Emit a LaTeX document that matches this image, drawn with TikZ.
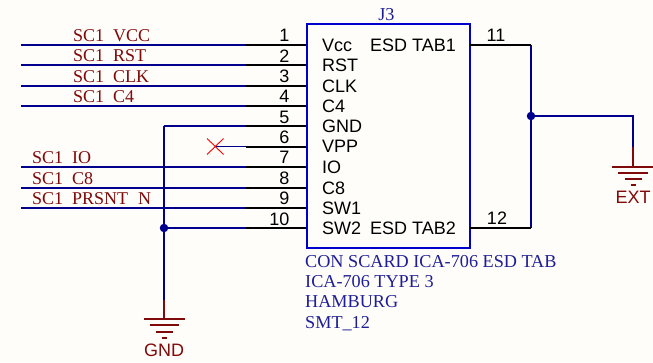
\documentclass[tikz,border=0pt]{standalone}
\usepackage{fontspec}
\setmainfont{Liberation Serif}
\setsansfont{Liberation Sans}
\definecolor{paper}{RGB}{255,253,249}
\definecolor{netblue}{RGB}{0,0,140}
\definecolor{boxblue}{RGB}{0,0,205}
\definecolor{partblue}{RGB}{30,30,150}
\definecolor{netred}{RGB}{128,10,10}
\tikzset{
  wire/.style={draw=netblue, line width=2pt},
  pinline/.style={draw=black, line width=2pt},
  gndline/.style={draw=netred, line width=2pt},
  dotnode/.style={circle, fill=netblue, inner sep=0pt, minimum size=8.5pt},
  pinnum/.style={anchor=base east, inner sep=0pt, font=\sffamily\fontsize{18}{19}\selectfont},
  pinname/.style={anchor=base west, inner sep=0pt, font=\sffamily\fontsize{18}{19}\selectfont},
  netname/.style={anchor=base west, inner sep=0pt, text=netred, font=\rmfamily\fontsize{18}{20}\selectfont},
  partname/.style={anchor=base west, inner sep=0pt, text=partblue, font=\rmfamily\fontsize{18.2}{20}\selectfont},
  gndname/.style={anchor=base, inner sep=0pt, text=netred, font=\sffamily\fontsize{18}{19}\selectfont},
}
\begin{document}
\begin{tikzpicture}[x=1pt, y=-1pt]
      \useasboundingbox[fill=paper] (0, 0) rectangle (653, 362);

      %%connector body
      \node[draw=boxblue, line width=2pt, minimum width=163.5pt, minimum height=224pt, inner sep=0pt] (J3box) at (388.25, 136){};
      \node[partname, anchor=base] (J3) at (386.5, 20){J3};

      %%left pins
      \coordinate (n1) at (21, 44.5);    \coordinate (m1) at (246, 44.5);   \coordinate (p1) at (306, 44.5);
      \coordinate (n2) at (21, 65);      \coordinate (m2) at (246, 65);     \coordinate (p2) at (306, 65);
      \coordinate (n3) at (21, 85.5);    \coordinate (m3) at (246, 85.5);   \coordinate (p3) at (306, 85.5);
      \coordinate (n4) at (21, 106);     \coordinate (m4) at (246, 106);    \coordinate (p4) at (306, 106);
      \coordinate (n5) at (164, 126);    \coordinate (m5) at (246, 126);    \coordinate (p5) at (306, 126);
      \coordinate (n6) at (215, 146.5);  \coordinate (m6) at (246, 146.5);  \coordinate (p6) at (306, 146.5);
      \coordinate (n7) at (21, 167);     \coordinate (m7) at (246, 167);    \coordinate (p7) at (306, 167);
      \coordinate (n8) at (21, 187.5);   \coordinate (m8) at (246, 187.5);  \coordinate (p8) at (306, 187.5);
      \coordinate (n9) at (21, 208);     \coordinate (m9) at (246, 208);    \coordinate (p9) at (306, 208);
      \coordinate (m10) at (246, 228);   \coordinate (p10) at (306, 228);

      %%net names
      \node[netname] (sc1vcc) at (73, 41){SC1\hspace{.5em}VCC};
      \node[netname] (sc1rst) at (73, 61){SC1\hspace{.5em}RST};
      \node[netname] (sc1clk) at (73, 82){SC1\hspace{.5em}CLK};
      \node[netname] (sc1c4) at (73, 102){SC1\hspace{.5em}C4};
      \node[netname] (sc1io) at (32, 163){SC1\hspace{.5em}IO};
      \node[netname] (sc1c8) at (32, 184){SC1\hspace{.5em}C8};
      \node[netname] (sc1prsnt) at (32, 204){SC1\hspace{.5em}PRSNT\hspace{.55em}N};

      %%wires
      \draw[wire] (n1) to (m1);
      \draw[wire] (n2) to (m2);
      \draw[wire] (n3) to (m3);
      \draw[wire] (n4) to (m4);
      \draw[wire] (n5) to (m5);
      \draw[wire, line width=1.5pt] (n6) to (m6);
      \draw[wire] (n7) to (m7);
      \draw[wire] (n8) to (m8);
      \draw[wire] (n9) to (m9);

      %%pins
      \draw[pinline] (m1) to (p1);
      \draw[pinline] (m2) to (p2);
      \draw[pinline] (m3) to (p3);
      \draw[pinline] (m4) to (p4);
      \draw[pinline] (m5) to (p5);
      \draw[pinline] (m6) to (p6);
      \draw[pinline] (m7) to (p7);
      \draw[pinline] (m8) to (p8);
      \draw[pinline] (m9) to (p9);
      \draw[pinline] (m10) to (p10);

      %%pin numbers
      \node[pinnum] (num1) at (289.5, 41){1};
      \node[pinnum] (num2) at (289.5, 62){2};
      \node[pinnum] (num3) at (289.5, 82){3};
      \node[pinnum] (num4) at (289.5, 102){4};
      \node[pinnum] (num5) at (289.5, 123){5};
      \node[pinnum] (num6) at (289.5, 143){6};
      \node[pinnum] (num7) at (289.5, 163){7};
      \node[pinnum] (num8) at (289.5, 184){8};
      \node[pinnum] (num9) at (289.5, 204){9};
      \node[pinnum] (num10) at (289.5, 225){10};

      %%pin names
      \node[pinname] (vcc) at (322, 51){Vcc};
      \node[pinname] (rst) at (322, 71){RST};
      \node[pinname] (clk) at (322, 92){CLK};
      \node[pinname] (c4) at (322, 112){C4};
      \node[pinname] (gnd) at (322, 132.5){GND};
      \node[pinname] (vpp) at (322, 152){VPP};
      \node[pinname] (io) at (322, 173){IO};
      \node[pinname] (c8) at (322, 194){C8};
      \node[pinname] (swone) at (322, 214){SW1};
      \node[pinname] (swtwo) at (322, 234){SW2};
      \node[pinname] (tabone) at (370, 51){ESD TAB1};
      \node[pinname] (tabtwo) at (370, 234){ESD TAB2};

      %%no connect
      \coordinate (xa) at (207, 138.5);
      \coordinate (xb) at (223.5, 154.5);
      \coordinate (xc) at (207, 154.5);
      \coordinate (xd) at (223.5, 138.5);
      \draw[red, line width=.9pt] (xa) to (xb);
      \draw[red, line width=.9pt] (xc) to (xd);

      %%GND
      \node[dotnode] (dotgnd) at (164, 228){};
      \coordinate (gw) at (164, 300);
      \coordinate (gb) at (164, 319);
      \draw[wire] (n5) to (gw);
      \draw[wire] (dotgnd) to (m10);
      \draw[gndline] (gw) to (gb);
      \coordinate (ga1) at (143.5, 319);   \coordinate (ga2) at (184.5, 319);
      \coordinate (gc1) at (149.5, 325.3); \coordinate (gc2) at (179, 325.3);
      \coordinate (gd1) at (156, 331.7);   \coordinate (gd2) at (173, 331.7);
      \coordinate (ge1) at (161.5, 337.7); \coordinate (ge2) at (167, 337.7);
      \draw[gndline] (ga1) to (ga2);
      \draw[gndline] (gc1) to (gc2);
      \draw[gndline] (gd1) to (gd2);
      \draw[gndline] (ge1) to (ge2);
      \node[gndname] (gndlabel) at (164, 356){GND};

      %%right pins
      \node[pinnum, anchor=base] (num11) at (496, 41){11};
      \node[pinnum, anchor=base] (num12) at (497, 224){12};
      \coordinate (r1) at (470, 44.5);
      \coordinate (r2) at (470, 228);
      \coordinate (s1) at (531, 44.5);
      \coordinate (s2) at (531, 228);
      \draw[wire] (s1) to (s2);
      \draw[pinline] (r1) to (s1);
      \draw[pinline] (r2) to (s2);

      %%EXT
      \node[dotnode] (dotext) at (531, 116){};
      \coordinate (eturn) at (633, 116);
      \coordinate (ew) at (633, 147);
      \coordinate (eb) at (633, 166.7);
      \draw[wire] (dotext) to (eturn) to (ew);
      \draw[gndline] (ew) to (eb);
      \coordinate (ea1) at (612, 166.7);   \coordinate (ea2) at (653, 166.7);
      \coordinate (ec1) at (618, 173);     \coordinate (ec2) at (648, 173);
      \coordinate (ed1) at (624.5, 179.3); \coordinate (ed2) at (642, 179.3);
      \coordinate (ee1) at (630.5, 185.3); \coordinate (ee2) at (636, 185.3);
      \draw[gndline] (ea1) to (ea2);
      \draw[gndline] (ec1) to (ec2);
      \draw[gndline] (ed1) to (ed2);
      \draw[gndline] (ee1) to (ee2);
      \node[gndname] (extlabel) at (633, 203){EXT};

      %%part text
      \node[partname] (line1) at (305, 267){CON SCARD ICA-706 ESD TAB};
      \node[partname] (line2) at (305, 287){ICA-706 TYPE 3};
      \node[partname] (line3) at (305, 307.5){HAMBURG};
      \node[partname] (line4) at (305, 328){SMT\_12};

\end{tikzpicture}
\end{document}
